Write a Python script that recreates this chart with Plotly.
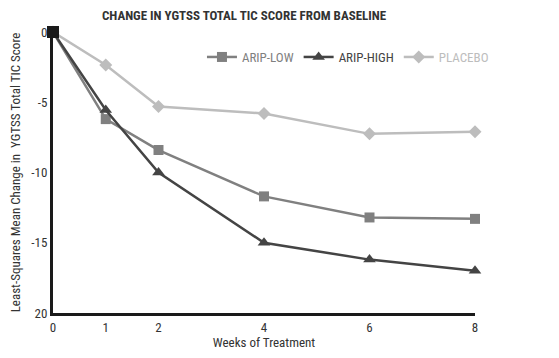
import plotly.graph_objects as go

weeks = [0, 1, 2, 4, 6, 8]
arip_low = [0, -6.2, -8.4, -11.7, -13.2, -13.3]
arip_high = [0, -5.55, -10.0, -15.0, -16.2, -17.0]
placebo = [0, -2.35, -5.3, -5.8, -7.25, -7.1]
baseline_week = [0]
baseline_value = [0]

y_tickvals = [0, -5, -10, -15, -20]
y_ticktext = ["0", "-5", "-10", "-15", "20"]
x_tickvals = [0, 1, 2, 4, 6, 8]

FONT = "Roboto Condensed, Liberation Sans Narrow, sans-serif"
C_LOW = "#808080"
C_HIGH = "#444444"
C_PLA = "#bdbdbd"

fig = go.Figure()
fig.add_trace(go.Scatter(
    x=weeks, y=arip_low, mode="lines+markers",
    name='<span style="color:%s">ARIP-LOW</span>' % C_LOW,
    line=dict(color=C_LOW, width=2.5),
    marker=dict(symbol="square", size=10, color=C_LOW),
    cliponaxis=False))
fig.add_trace(go.Scatter(
    x=weeks, y=arip_high, mode="lines+markers",
    name='<span style="color:%s">ARIP-HIGH</span>' % C_HIGH,
    line=dict(color=C_HIGH, width=2.5),
    marker=dict(symbol="triangle-up", size=11, color=C_HIGH),
    cliponaxis=False))
fig.add_trace(go.Scatter(
    x=weeks, y=placebo, mode="lines+markers",
    name='<span style="color:%s">PLACEBO</span>' % C_PLA,
    line=dict(color=C_PLA, width=2.5),
    marker=dict(symbol="diamond", size=10, color=C_PLA),
    cliponaxis=False))
fig.add_trace(go.Scatter(
    x=baseline_week, y=baseline_value, mode="markers",
    marker=dict(symbol="square", size=12, color="#1a1a1a"),
    showlegend=False, cliponaxis=False))

# the page body adds an 8px offset; figure sized to fit the 559x358 window
W, H = 551, 350
fig.update_layout(
    width=W, height=H,
    margin=dict(l=45, r=84, t=24, b=45, autoexpand=False),
    paper_bgcolor="white", plot_bgcolor="white",
    font=dict(family=FONT, size=13, color="#333333"),
    title=dict(text="<b>CHANGE IN YGTSS TOTAL TIC SCORE FROM BASELINE</b>",
               x=236 / W, xanchor="center", y=1 - 7 / H, yanchor="middle",
               xref="container",
               font=dict(family=FONT, size=13, color="#333333")),
    showlegend=True,
    legend=dict(orientation="h", x=0.353, xanchor="left", y=0.911, yanchor="middle",
                font=dict(family=FONT, size=13), itemwidth=30,
                bgcolor="rgba(0,0,0,0)"),
    xaxis=dict(range=[0, 8], tickvals=x_tickvals, showgrid=False, zeroline=False,
               showline=True, linecolor="#1a1a1a", linewidth=3, ticks="",
               automargin=False,
               tickfont=dict(size=13, color="#333333"),
               title=dict(text="Weeks of Treatment", standoff=2,
                          font=dict(size=13, color="#333333"))),
    yaxis=dict(range=[-20, 0], tickvals=y_tickvals, ticktext=y_ticktext,
               showgrid=False, zeroline=False, automargin=False,
               showline=True, linecolor="#1a1a1a", linewidth=3, ticks="",
               tickfont=dict(size=13, color="#333333"),
               title=dict(text="Least-Squares Mean Change in  YGTSS Total TIC Score", standoff=8,
                          font=dict(size=13, color="#333333"))),
)

fig.write_html("out.html")
